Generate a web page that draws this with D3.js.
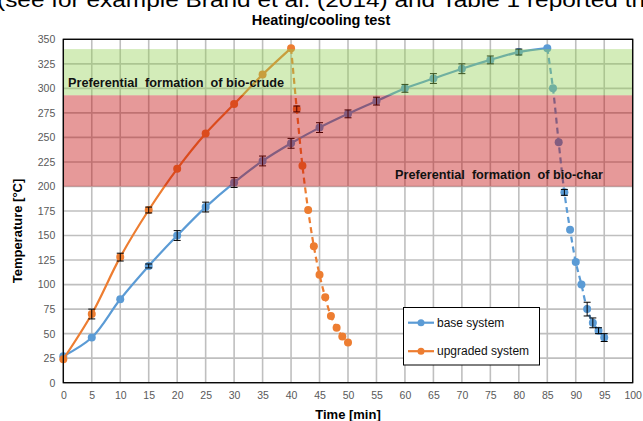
<!DOCTYPE html>
<html><head><meta charset="utf-8">
<script src="https://cdn.jsdelivr.net/npm/d3@7"></script>
<style>
html,body{margin:0;padding:0;background:#fff;overflow:hidden}
text{font-family:"Liberation Sans",Arial,sans-serif}
</style></head>
<body>
<svg id="c" width="643" height="421"></svg>
<script>
// ---- data ----
const baseHeatT = [0,5,10,15,20,25,30,35,40,45,50,55,60,65,70,75,80,85];
const baseHeatV = [27,46,85,119,150,179,204,226,244,260,274,287,300,310,320,329,337,341];
const baseHeatE = [0,0,0,2,5,5,5,5,5,5,4,4,4,5,5,4,3,0];
const baseCoolT = [85,86,87,88,89,90,91,92,93,94,95];
const baseCoolV = [341,300,245,194,156,123,100,75,61,53,46];
const baseCoolE = [0,0,0,3,0,0,0,7,5,3,4];
const upHeatT = [0,5,10,15,20,25,30,35,40];
const upHeatV = [24,70,128,176,218,254,284,314,341];
const upHeatE = [0,5,4,3,0,0,0,0,0];
const upCoolT = [40,41,42,43,44,45,46,47,48,49,50];
const upCoolV = [341,279,221,176,139,110,87,68,56,47,41];
const upCoolE = [0,3,0,0,0,0,0,0,0,0,0];
const xTicks = d3.range(0,101,5);
const yTicks = d3.range(0,351,25);
const bandLo = [200,293];
const bandHi = [293,340];
const bandLabels = ["Preferential  formation  of bio-char","Preferential  formation  of bio-crude"];
const seriesNames = ["base system","upgraded system"];
const seriesColors = ["#5b9bd5","#ed7d31"];

const svg = d3.select("#c");
const x = d3.scaleLinear().domain([0,100]).range([63.3,632.7]);
const y = d3.scaleLinear().domain([0,350]).range([382.7,39.3]);

// header text cut off
svg.append("text").attr("x",-3).attr("y",7).attr("font-size",19.5)
  .attr("textLength",648).attr("lengthAdjust","spacingAndGlyphs")
  .text("(see for example Brand et al. (2014) and Table 1 reported th");
svg.append("text").attr("x",321).attr("y",25).attr("text-anchor","middle").attr("font-size",14.5).attr("font-weight","bold")
  .text("Heating/cooling test");

// grid
const g = svg.append("g");
g.selectAll(".gx").data(xTicks).enter().append("line")
  .attr("x1",d=>x(d)).attr("x2",d=>x(d)).attr("y1",y(0)).attr("y2",y(350))
  .attr("stroke","#bfbfbf").attr("stroke-width",1.6);
g.selectAll(".gy").data(yTicks).enter().append("line")
  .attr("x1",x(0)).attr("x2",x(100)).attr("y1",d=>y(d)).attr("y2",d=>y(d))
  .attr("stroke","#bfbfbf").attr("stroke-width",1.6);

// axes
const xAxis = d3.axisBottom(x).tickValues(xTicks).tickSize(0).tickPadding(9);
const yAxis = d3.axisLeft(y).tickValues(yTicks).tickSize(0).tickPadding(8);
const gx = svg.append("g").attr("transform",`translate(0,${y(0)})`).call(xAxis);
const gy = svg.append("g").attr("transform",`translate(${x(0)},0)`).call(yAxis);
[gx,gy].forEach(a=>{a.select(".domain").remove();
  a.selectAll("text").attr("font-size",10.5).attr("fill","#595959").attr("font-family","Liberation Sans, Arial, sans-serif");});

const curve = d3.curveCatmullRom.alpha(0.5);
function drawSeries(T,V,E,color,dashed,skipFirst){
  const pts = T.map((t,i)=>({t,v:V[i],e:E[i]}));
  const line = d3.line().x(d=>x(d.t)).y(d=>y(d.v)).curve(curve);
  svg.append("path").datum(pts).attr("d",line).attr("fill","none")
    .attr("stroke",color).attr("stroke-width",2.2)
    .attr("stroke-dasharray",dashed?"6,4":null);
  const mp = skipFirst?pts.slice(1):pts;
  svg.append("g").selectAll("circle").data(mp).enter().append("circle")
    .attr("cx",d=>x(d.t)).attr("cy",d=>y(d.v)).attr("r",4).attr("fill",color);
  const eb = svg.append("g").attr("stroke","#000").attr("stroke-width",1);
  mp.filter(d=>d.e>0).forEach(d=>{
    const cx=x(d.t), y1=y(d.v+d.e), y2=y(d.v-d.e);
    eb.append("line").attr("x1",cx).attr("x2",cx).attr("y1",y1).attr("y2",y2);
    eb.append("line").attr("x1",cx-3.5).attr("x2",cx+3.5).attr("y1",y1).attr("y2",y1);
    eb.append("line").attr("x1",cx-3.5).attr("x2",cx+3.5).attr("y1",y2).attr("y2",y2);
  });
}
drawSeries(baseHeatT,baseHeatV,baseHeatE,seriesColors[0],false,false);
drawSeries(baseCoolT,baseCoolV,baseCoolE,seriesColors[0],true,true);
drawSeries(upHeatT,upHeatV,upHeatE,seriesColors[1],false,false);
drawSeries(upCoolT,upCoolV,upCoolE,seriesColors[1],true,true);

// bands (semi-transparent, on top)
const bandColors = ["rgba(192,0,0,0.4)","rgba(146,208,80,0.4)"];
svg.append("g").selectAll("rect").data(bandLo).enter().append("rect")
  .attr("x",x(0)).attr("width",x(100)-x(0))
  .attr("y",(d,i)=>y(bandHi[i])).attr("height",(d,i)=>y(d)-y(bandHi[i]))
  .attr("fill",(d,i)=>bandColors[i]);

// plot border
svg.append("rect").attr("x",x(0)).attr("y",y(350)).attr("width",x(100)-x(0))
  .attr("height",y(0)-y(350)).attr("fill","none").attr("stroke","#000").attr("stroke-width",1.3);

// band labels
svg.append("text").attr("x",68).attr("y",87).attr("font-size",12.5).attr("font-weight","bold")
  .attr("fill","#111").attr("xml:space","preserve")
  .attr("textLength",216).attr("lengthAdjust","spacingAndGlyphs").text(bandLabels[1]);
svg.append("text").attr("x",395).attr("y",178.5).attr("font-size",12.5).attr("font-weight","bold")
  .attr("fill","#111").attr("xml:space","preserve")
  .attr("textLength",208).attr("lengthAdjust","spacingAndGlyphs").text(bandLabels[0]);

// axis titles
svg.append("text").attr("transform","translate(22,231) rotate(-90)").attr("text-anchor","middle")
  .attr("font-size",13).attr("font-weight","bold").text("Temperature [°C]");
svg.append("text").attr("x",348).attr("y",419).attr("text-anchor","middle")
  .attr("font-size",13).attr("font-weight","bold").text("Time [min]");

// legend
const lg = svg.append("g");
lg.append("rect").attr("x",403.5).attr("y",307.5).attr("width",136).attr("height",57.5)
  .attr("fill","#fff").attr("stroke","#000").attr("stroke-width",1);
seriesNames.forEach((n,i)=>{
  const yy = 322.7 + i*28.5;
  lg.append("line").attr("x1",408).attr("x2",434).attr("y1",yy).attr("y2",yy)
    .attr("stroke",seriesColors[i]).attr("stroke-width",2.2);
  lg.append("circle").attr("cx",421).attr("cy",yy).attr("r",3.5).attr("fill",seriesColors[i]);
  lg.append("text").attr("x",437).attr("y",yy+4).attr("font-size",12).attr("fill","#111").text(n);
});
</script>
</body></html>
